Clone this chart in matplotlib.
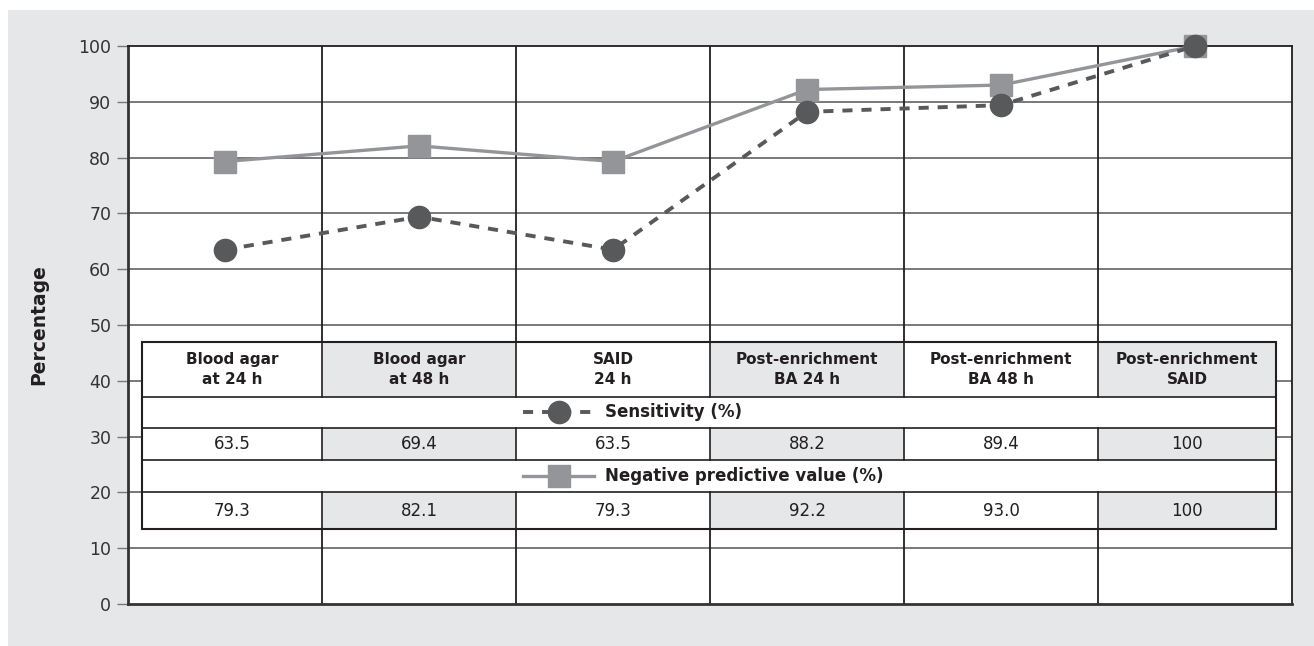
import matplotlib.pyplot as plt
import numpy as np
from matplotlib.patches import Rectangle

# data
methods = [
    "Blood agar\nat 24 h",
    "Blood agar\nat 48 h",
    "SAID\n24 h",
    "Post-enrichment\nBA 24 h",
    "Post-enrichment\nBA 48 h",
    "Post-enrichment\nSAID",
]
sensitivity = [63.5, 69.4, 63.5, 88.2, 89.4, 100]
npv = [79.3, 82.1, 79.3, 92.2, 93.0, 100]
sens_labels = ["63.5", "69.4", "63.5", "88.2", "89.4", "100"]
npv_labels = ["79.3", "82.1", "79.3", "92.2", "93.0", "100"]
yticks = [0, 10, 20, 30, 40, 50, 60, 70, 80, 90, 100]

DARK = "#231f20"
SENS_C = "#58595b"
NPV_C = "#939598"
SHADE = "#e6e7e8"
SENS_LS = (0, (2.6, 2.3))

W, H = 1314, 646
fig = plt.figure(figsize=(W / 100, H / 100), dpi=100)
fig.patch.set_facecolor("white")
# grey panel behind the chart
fig.patches.append(Rectangle((8 / W, 0), 1, (H - 10) / H, transform=fig.transFigure,
                             facecolor=SHADE, edgecolor="none", zorder=-10))

ax = fig.add_axes([128 / W, (H - 604) / H, (1292 - 128) / W, (604 - 46) / H])
ax.set_facecolor("white")
ax.set_xlim(0, len(methods))
ax.set_ylim(0, 100)

# grid
for v in yticks[1:-1]:
    ax.axhline(v, color="#555555", lw=1.1, zorder=1)
for i in range(1, len(methods)):
    ax.axvline(i, color=DARK, lw=1.3, zorder=1)

for side in ["top", "right"]:
    ax.spines[side].set_color(DARK)
    ax.spines[side].set_linewidth(1.3)
for side in ["left", "bottom"]:
    ax.spines[side].set_color("#333333")
    ax.spines[side].set_linewidth(2)

ax.set_xticks([])
ax.set_yticks(yticks)
ax.tick_params(axis="y", direction="out", length=8, width=1, color="#777777",
               labelsize=12.5, labelcolor="#333333", pad=4)
ax.set_ylabel("Percentage", fontsize=13.5, fontweight="bold", color=DARK, labelpad=22)

# series
x = np.arange(len(methods)) + 0.5
ax.plot(x, npv, color=NPV_C, lw=2.4, marker="s", ms=16, mfc=NPV_C, mec=NPV_C,
        zorder=4, clip_on=False)
ax.plot(x, sensitivity, color=SENS_C, lw=2.8, ls=SENS_LS, marker="o", ms=16,
        mfc=SENS_C, mec=SENS_C, zorder=5, clip_on=False)

# data table drawn over the grid
tx0, tx1 = 0.072, 5.917
rows = [46.95, 37.10, 31.54, 25.81, 20.07, 13.44]
cell_rows = [(0, 1), (2, 3), (4, 5)]  # header, sens values, npv values
ax.add_patch(Rectangle((tx0, rows[-1]), tx1 - tx0, rows[0] - rows[-1],
                       facecolor="white", edgecolor="none", zorder=2))
for r0, r1 in cell_rows:
    for i in range(len(methods)):
        c0, c1 = max(i, tx0), min(i + 1, tx1)
        if i % 2 == 1:
            ax.add_patch(Rectangle((c0, rows[r1]), c1 - c0, rows[r0] - rows[r1],
                                   facecolor=SHADE, edgecolor="none", zorder=2))
        if i > 0:
            ax.plot([i, i], [rows[r1], rows[r0]], color=DARK, lw=1.2, zorder=3)
for yv in rows[1:-1]:
    ax.plot([tx0, tx1], [yv, yv], color=DARK, lw=1.2, zorder=3)
ax.add_patch(Rectangle((tx0, rows[-1]), tx1 - tx0, rows[0] - rows[-1],
                       facecolor="none", edgecolor=DARK, lw=1.5, zorder=3))

for i, name in enumerate(methods):
    cx = (max(i, tx0) + min(i + 1, tx1)) / 2
    ax.text(cx, (rows[0] + rows[1]) / 2, name, ha="center", va="center",
            fontsize=11, fontweight="bold", color=DARK, linespacing=1.45, zorder=4)
    ax.text(cx, (rows[2] + rows[3]) / 2, sens_labels[i], ha="center", va="center",
            fontsize=12, color=DARK, zorder=4)
    ax.text(cx, (rows[4] + rows[5]) / 2, npv_labels[i], ha="center", va="center",
            fontsize=12, color=DARK, zorder=4)

# legend handles inside the table rows
ys = (rows[1] + rows[2]) / 2
yn = (rows[3] + rows[4]) / 2
ax.plot([2.034, 2.43], [ys, ys], color=SENS_C, lw=2.8, ls=SENS_LS, zorder=4)
ax.plot([2.22], [ys], marker="o", ms=16, color=SENS_C, zorder=5)
ax.text(2.46, ys, "Sensitivity (%)", ha="left", va="center", fontsize=12,
        fontweight="bold", color=DARK, zorder=4)
ax.plot([2.034, 2.40], [yn, yn], color=NPV_C, lw=2.4, zorder=4)
ax.plot([2.22], [yn], marker="s", ms=16, color=NPV_C, zorder=5)
ax.text(2.46, yn, "Negative predictive value (%)", ha="left", va="center",
        fontsize=12, fontweight="bold", color=DARK, zorder=4)

fig.savefig("out.png", dpi=100)
